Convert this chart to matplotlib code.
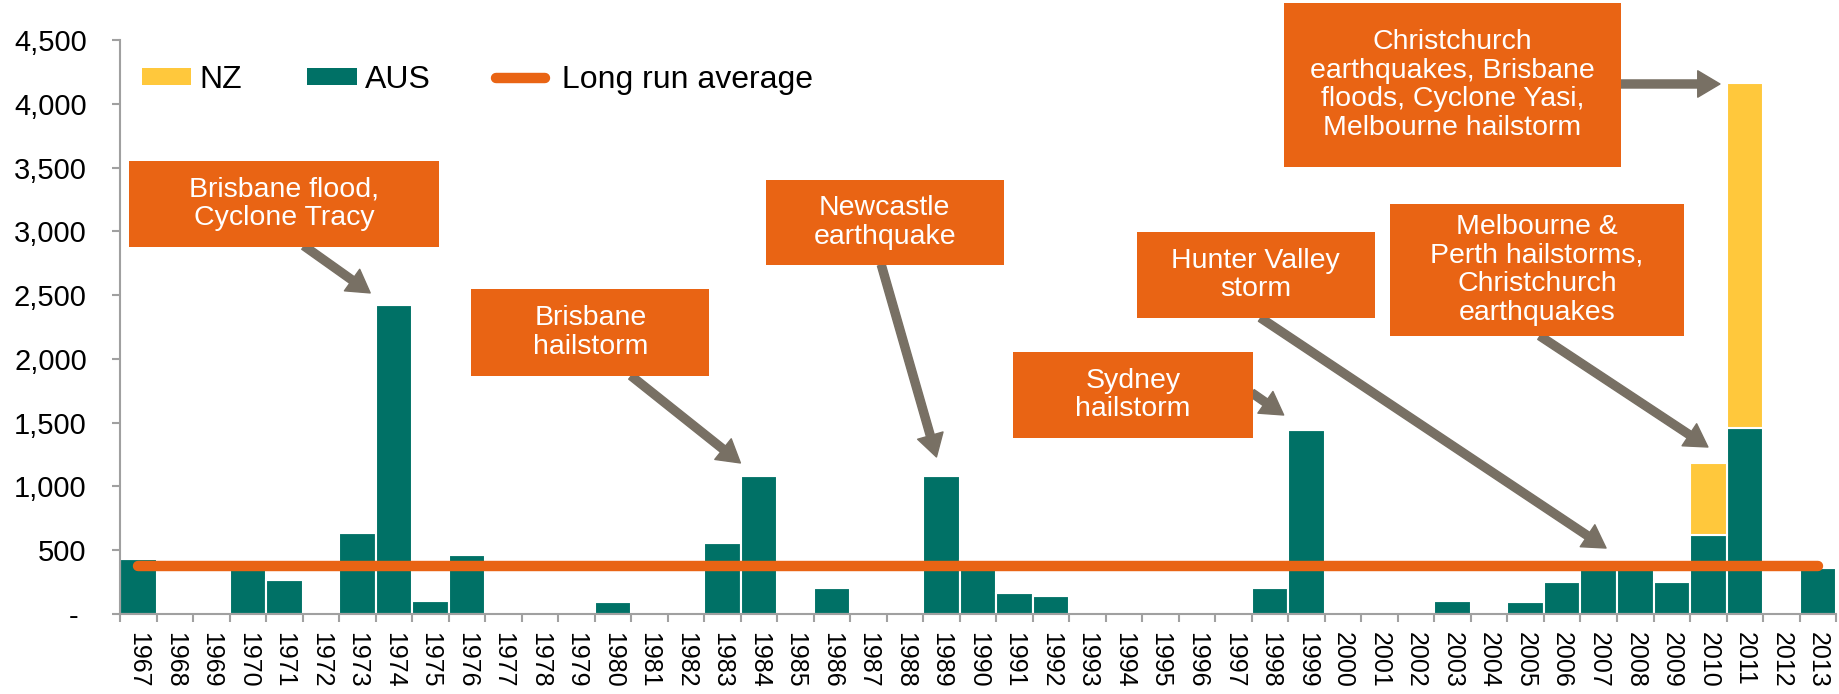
import matplotlib
matplotlib.use("Agg")
import matplotlib.pyplot as plt
from matplotlib.patches import Patch, Rectangle
from matplotlib.lines import Line2D
import numpy as np

# Insured losses by year (AUS + NZ)
years = list(range(1967, 2014))
aus = [432, 0, 0, 421, 270, 0, 636, 2425, 105, 466,
       0, 0, 0, 92, 0, 0, 560, 1080, 0, 203,
       0, 0, 1085, 424, 166, 138, 0, 0, 0, 0,
       0, 203, 1445, 0, 0, 0, 103, 0, 91, 253,
       400, 400, 250, 620, 1455, 0, 363]
nz = [0] * 43 + [560, 2710, 0, 0]
long_run_avg = 376

yticks = [0, 500, 1000, 1500, 2000, 2500, 3000, 3500, 4000, 4500]
ytick_labels = ["- ", "500", "1,000", "1,500", "2,000", "2,500",
                "3,000", "3,500", "4,000", "4,500"]

events = [
    "Brisbane flood,\nCyclone Tracy",
    "Brisbane\nhailstorm",
    "Newcastle\nearthquake",
    "Sydney\nhailstorm",
    "Hunter Valley\nstorm",
    "Melbourne &\nPerth hailstorms,\nChristchurch\nearthquakes",
    "Christchurch\nearthquakes, Brisbane\nfloods, Cyclone Yasi,\nMelbourne hailstorm",
]

TEAL = "#007166"
YELLOW = "#FFC83C"
ORANGE = "#E96414"
ARROW = "#787064"
AXIS = "#A0A0A0"

plt.rcParams["font.family"] = ["Liberation Sans", "DejaVu Sans"]

fig = plt.figure(figsize=(18.39, 6.94), dpi=100)
ax = fig.add_axes([0.0653, 0.1153, 0.9331, 0.8271])

x = np.array(years)
aus = np.array(aus)
nz = np.array(nz)
ax.bar(x, aus, width=1.0, color=TEAL, edgecolor="white", linewidth=1.5, zorder=2)
ax.bar(x, nz, width=1.0, bottom=aus, color=YELLOW, edgecolor="white",
       linewidth=1.5, zorder=2)
ax.plot([years[0], years[-1]], [long_run_avg, long_run_avg], color=ORANGE,
        lw=7.5, solid_capstyle="round", zorder=3)

ax.set_xlim(years[0] - 0.5, years[-1] + 0.5)
ax.set_ylim(0, 4500)

for s in ["top", "right"]:
    ax.spines[s].set_visible(False)
for s in ["left", "bottom"]:
    ax.spines[s].set_color(AXIS)
    ax.spines[s].set_linewidth(1.5)

ax.set_yticks(yticks)
ax.set_yticklabels(ytick_labels, fontsize=21)
ax.tick_params(axis="y", length=6, width=1.5, color=AXIS, pad=18)

ax.set_xticks(x)
ax.set_xticklabels([str(y) for y in years], rotation=-90, fontsize=18)
ax.tick_params(axis="x", which="major", length=0, pad=13)
ax.set_xticks(np.arange(years[0] - 0.5, years[-1] + 1.0, 1.0), minor=True)
ax.tick_params(axis="x", which="minor", length=6, width=1.5, color=AXIS)

# annotation boxes: (x0, x1, y0, y1) in data units
boxes = [
    (1966.75, 1975.24, 2877, 3551),
    (1976.12, 1982.64, 1866, 2548),
    (1984.18, 1990.70, 2736, 3402),
    (1990.97, 1997.52, 1380, 2054),
    (1994.34, 2000.87, 2321, 2995),
    (2001.28, 2009.33, 2179, 3214),
    (1998.37, 2007.61, 3504, 4790),
]
# arrows: (tail, head)
arrows = [
    ((1971.54, 2885), (1973.35, 2517)),
    ((1980.50, 1866), (1983.49, 1184)),
    ((1987.35, 2736), (1988.86, 1231)),
    ((1997.50, 1733), (1998.37, 1560)),
    ((1997.74, 2321), (2007.20, 517)),
    ((2005.39, 2179), (2009.99, 1309)),
    ((2007.61, 4155), (2010.32, 4155)),
]

for (tail, head) in arrows:
    ax.annotate("", xy=head, xytext=tail, annotation_clip=False, zorder=4,
                arrowprops=dict(arrowstyle="simple,head_length=0.8,head_width=0.95,tail_width=0.29",
                                mutation_scale=20, color=ARROW, shrinkA=0, shrinkB=0))

for (x0, x1, y0, y1), label in zip(boxes, events):
    ax.add_patch(Rectangle((x0, y0), x1 - x0, y1 - y0, facecolor=ORANGE,
                           edgecolor="none", clip_on=False, zorder=5))
    ax.text((x0 + x1) / 2, (y0 + y1) / 2, label, ha="center", va="center",
            color="white", fontsize=20.5, linespacing=1.12, zorder=6, clip_on=False)

handles = [
    Patch(facecolor=YELLOW, edgecolor="none", label="NZ"),
    Patch(facecolor=TEAL, edgecolor="none", label="AUS"),
    Line2D([0], [0], color=ORANGE, lw=7.5, solid_capstyle="round", label=" Long run average"),
]
ax.legend(handles=handles, loc="center left", bbox_to_anchor=(0.0128, 0.93),
          ncol=3, frameon=False, fontsize=23, handlelength=1.54, handleheight=0.44,
          handletextpad=0.25, columnspacing=2.05, borderpad=0, borderaxespad=0)

fig.savefig("out.png", dpi=100)
